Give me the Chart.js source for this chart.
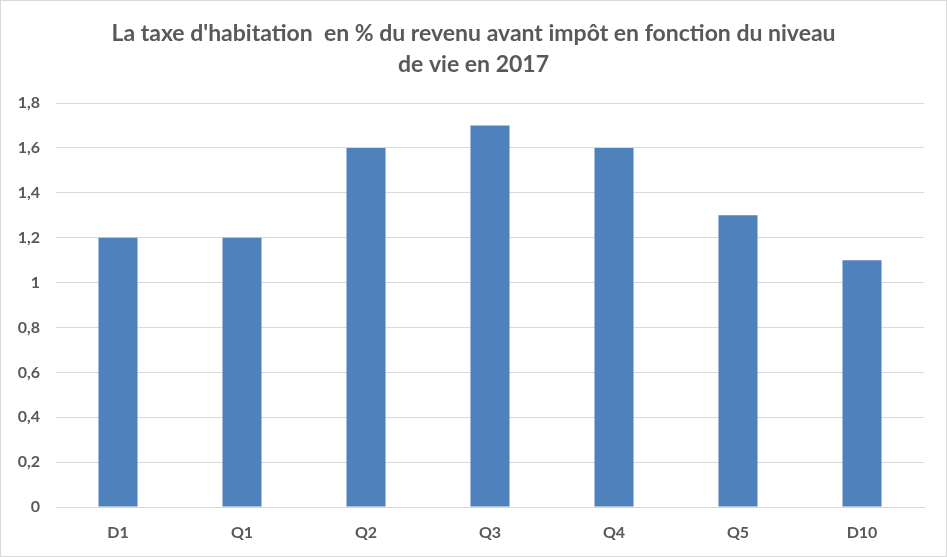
<!DOCTYPE html>
<html>
<head>
<meta charset="utf-8">
<script src="https://cdn.jsdelivr.net/npm/chart.js@4"></script>
<style>
  body { margin: 0; background: #fff; }
  #wrap { width: 947px; height: 557px; box-sizing: border-box; border: 1px solid #d9d9d9; }
  canvas { display: block; }
</style>
</head>
<body>
<div id="wrap"><canvas id="chart" width="945" height="555"></canvas></div>
<script>
// niveaux de vie et taux de la taxe d'habitation
const categories = ["D1", "Q1", "Q2", "Q3", "Q4", "Q5", "D10"];
const taxValues = [1.2, 1.2, 1.6, 1.7, 1.6, 1.3, 1.1];
const titleLines = ["La taxe d'habitation  en % du revenu avant impôt en fonction du niveau", "de vie en 2017"];

const grey = "#595959";
const font = "Lato, 'Liberation Sans', sans-serif";

new Chart(document.getElementById("chart"), {
    type: "bar",
    data: {
        labels: categories,
        datasets: [{
            label: "Taxe d'habitation",
            data: taxValues,
            backgroundColor: "#4f81bd",
            categoryPercentage: 1,
            barPercentage: 0.315
        }]
    },
    options: {
        responsive: false,
        animation: false,
        layout: { padding: { left: 0, right: 0, top: 0, bottom: 0 } },
        plugins: {
            legend: { display: false },
            tooltip: { enabled: false },
            title: {
                display: true,
                text: titleLines,
                color: grey,
                font: { family: font, size: 23, weight: "bold", lineHeight: 1.35 },
                padding: { top: 17, bottom: 23 }
            }
        },
        scales: {
            x: {
                afterFit: function (scale) { scale.height = 49; },
                grid: { display: false, drawTicks: false },
                border: { color: "#d9d9d9" },
                ticks: { color: grey, font: { family: font, size: 16, weight: "bold" }, padding: 16 }
            },
            y: {
                min: 0,
                max: 1.8,
                afterFit: function (scale) { scale.width = 55; },
                grid: { color: "#d9d9d9", drawTicks: false },
                border: { display: false },
                ticks: {
                    stepSize: 0.2,
                    color: grey,
                    padding: 16,
                    font: { family: font, size: 16, weight: "bold" },
                    callback: function (v) { return (Math.round(v * 10) / 10).toString().replace(".", ","); }
                }
            },
            // empty right margin so the title stays centred on the whole chart
            spacer: {
                type: "linear",
                position: "right",
                afterFit: function (scale) { scale.width = 22; },
                grid: { display: false, drawTicks: false },
                border: { display: false },
                ticks: { display: false }
            }
        }
    }
});
</script>
</body>
</html>
